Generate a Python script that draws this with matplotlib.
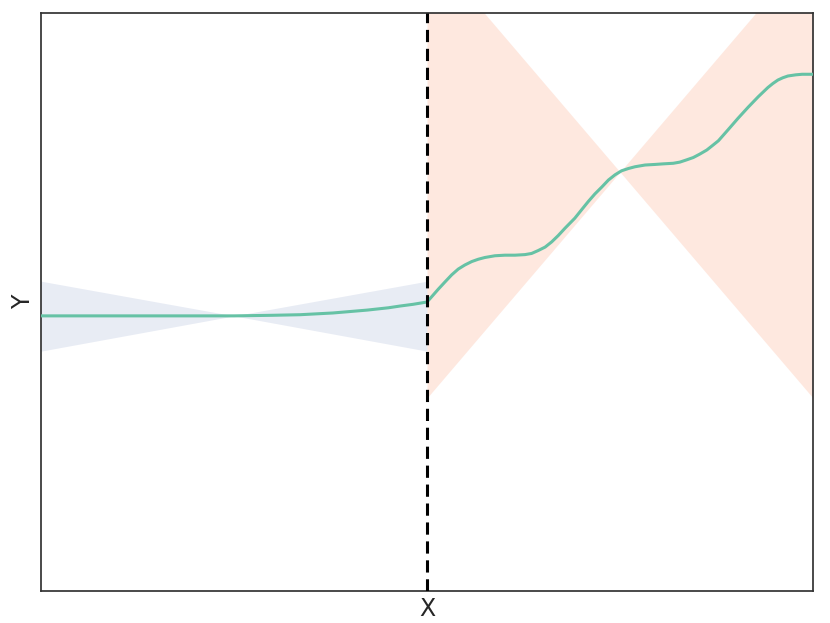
import numpy as np
import matplotlib
matplotlib.use("Agg")
import matplotlib.pyplot as plt

# --- data ---
# pre-period (left of the cutoff)
x_pre = [-10.0, -6.0, -5.0, -4.0, -3.29, -2.44, -1.55, -1.0, -0.70, -0.36, 0.0]
y_pre = [4.76, 4.76, 4.76, 4.77, 4.78, 4.81, 4.86, 4.90, 4.93, 4.96, 5.00]

# post-period (right of the cutoff)
x_post = [0.00, 0.12, 0.29, 0.47, 0.64, 0.81, 0.98, 1.16, 1.33, 1.50,
          1.76, 2.02, 2.28, 2.54, 2.71, 2.88, 3.06, 3.23, 3.40, 3.58,
          3.83, 4.01, 4.18, 4.35, 4.53, 4.70, 4.87, 5.04, 5.22, 5.39,
          5.65, 5.91, 6.12, 6.38, 6.55, 6.73, 6.90, 7.07, 7.25, 7.42,
          7.55, 7.80, 8.06, 8.32, 8.58, 8.83, 8.96, 9.09, 9.22, 9.35,
          9.55, 9.72, 10.0]
y_post = [5.00, 5.09, 5.22, 5.35, 5.47, 5.57, 5.64, 5.70, 5.74, 5.77,
          5.80, 5.81, 5.81, 5.82, 5.84, 5.89, 5.95, 6.04, 6.15, 6.28,
          6.45, 6.60, 6.74, 6.87, 6.99, 7.11, 7.20, 7.27, 7.31, 7.34,
          7.37, 7.38, 7.39, 7.40, 7.42, 7.46, 7.50, 7.56, 7.63, 7.72,
          7.79, 7.98, 8.18, 8.37, 8.55, 8.71, 8.78, 8.84, 8.88, 8.91,
          8.93, 8.94, 8.94]

# uncertainty bands (bow-tie shapes)
band_pre_x = [-10.0, -5.0, 0.0]
band_pre_lo = [4.15, 4.76, 4.15]
band_pre_hi = [5.36, 4.76, 5.36]

band_post_x = [0.0, 5.0, 10.0]
band_post_lo = [3.34, 7.25, 3.34]
band_post_hi = [11.16, 7.25, 11.16]

cutoff = 0.0

GREEN = "#66c2a5"
ORANGE = "#fc8d62"
BLUE = "#8da0cb"

fig = plt.figure(figsize=(8.30, 6.23), dpi=100, facecolor="white")
ax = fig.add_axes([41 / 830, 32 / 623, 772 / 830, 578 / 623])

ax.fill_between(band_pre_x, band_pre_lo, band_pre_hi,
                color=BLUE, alpha=0.2, linewidth=0, zorder=1)
ax.fill_between(band_post_x, band_post_lo, band_post_hi,
                color=ORANGE, alpha=0.2, linewidth=0, zorder=1)

ax.plot(x_pre + x_post, y_pre + y_post, color=GREEN, linewidth=2.2,
        solid_joinstyle="round", solid_capstyle="round", zorder=3)

ax.axvline(cutoff, color="black", linestyle="--", linewidth=2.2,
           dashes=(4, 2.2), zorder=4)

ax.set_xlim(-10, 10)
ax.set_ylim(0, 10)
ax.set_xticks([])
ax.set_yticks([])

for sp in ax.spines.values():
    sp.set_color("#333333")
    sp.set_linewidth(1.25)

ax.set_xlabel("X", fontsize=17, color="#262626", labelpad=4)
ax.set_ylabel("Y", fontsize=17, color="#262626", labelpad=4.5)

fig.savefig("out.png", dpi=100, facecolor="white")
